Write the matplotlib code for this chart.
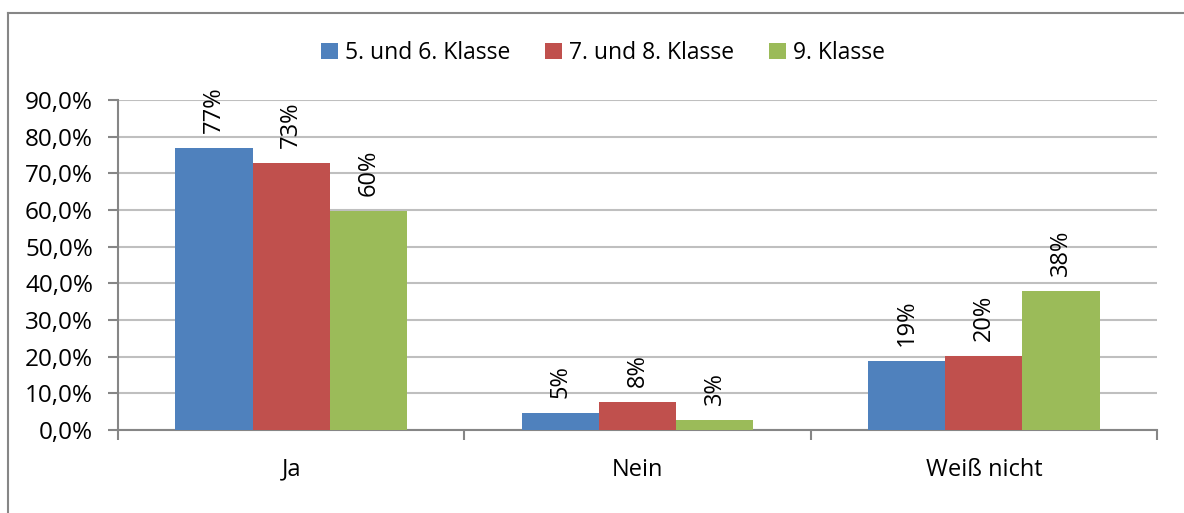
import matplotlib.pyplot as plt
import matplotlib.lines as mlines
import numpy as np
from matplotlib.ticker import FuncFormatter

plt.rcParams['font.family'] = ['Open Sans', 'DejaVu Sans']

categories = ['Ja', 'Nein', 'Weiß nicht']
series = ['5. und 6. Klasse', '7. und 8. Klasse', '9. Klasse']
values_56 = [76.9, 4.6, 18.8]
values_78 = [72.8, 7.6, 20.2]
values_9 = [59.6, 2.7, 37.9]
colors = ['#4F81BD', '#C0504D', '#9BBB59']

fig = plt.figure(figsize=(11.84, 5.13), dpi=100)
ax = fig.add_axes([118 / 1184, 1 - 430 / 513, (1157 - 118) / 1184, 330 / 513])

x = np.arange(len(categories))
w = 0.223
for i, (vals, name) in enumerate(zip([values_56, values_78, values_9], series)):
    bars = ax.bar(x + (i - 1) * w, vals, w, color=colors[i], label=name, zorder=3)
    for b, v in zip(bars, vals):
        ax.annotate(f'{v:.0f}%', (b.get_x() + b.get_width() / 2, v),
                    xytext=(0, 11), textcoords='offset points',
                    rotation=90, ha='center', va='bottom', fontsize=17)

ax.set_xlim(-0.5, 2.5)
ax.set_ylim(0, 90)
ax.set_yticks(np.arange(0, 91, 10))
ax.yaxis.set_major_formatter(FuncFormatter(lambda v, p: f'{v:.1f}%'.replace('.', ',')))
ax.grid(axis='y', color='#BFBFBF', lw=1.5, zorder=0)

ax.set_xticks([-0.5, 0.5, 1.5, 2.5])
ax.set_xticklabels([])
ax.set_xticks(x, minor=True)
ax.set_xticklabels(categories, minor=True)
ax.tick_params(axis='x', which='major', length=7, width=1.5, color='#868686', direction='out')
ax.tick_params(axis='x', which='minor', length=0, pad=20, labelsize=17)
ax.tick_params(axis='y', length=7, width=1.5, color='#868686', pad=11, labelsize=17.5)

for s in ['top', 'right']:
    ax.spines[s].set_visible(False)
for s in ['left', 'bottom']:
    ax.spines[s].set_color('#868686')
    ax.spines[s].set_linewidth(1.5)

fig.legend(loc='center', bbox_to_anchor=(603 / 1184, 1 - 53 / 513), ncol=3,
           frameon=False, fontsize=16.5, handlelength=0.75, handleheight=0.75,
           handletextpad=0.3, columnspacing=1.5)

# outer chart frame (only top and left edges visible)
fig.add_artist(mlines.Line2D([8 / 1184, 1], [1 - 13 / 513, 1 - 13 / 513], color='#868686', lw=1.5))
fig.add_artist(mlines.Line2D([8 / 1184, 8 / 1184], [0, 1 - 13 / 513], color='#868686', lw=1.5))

fig.savefig('out.png', dpi=100)
